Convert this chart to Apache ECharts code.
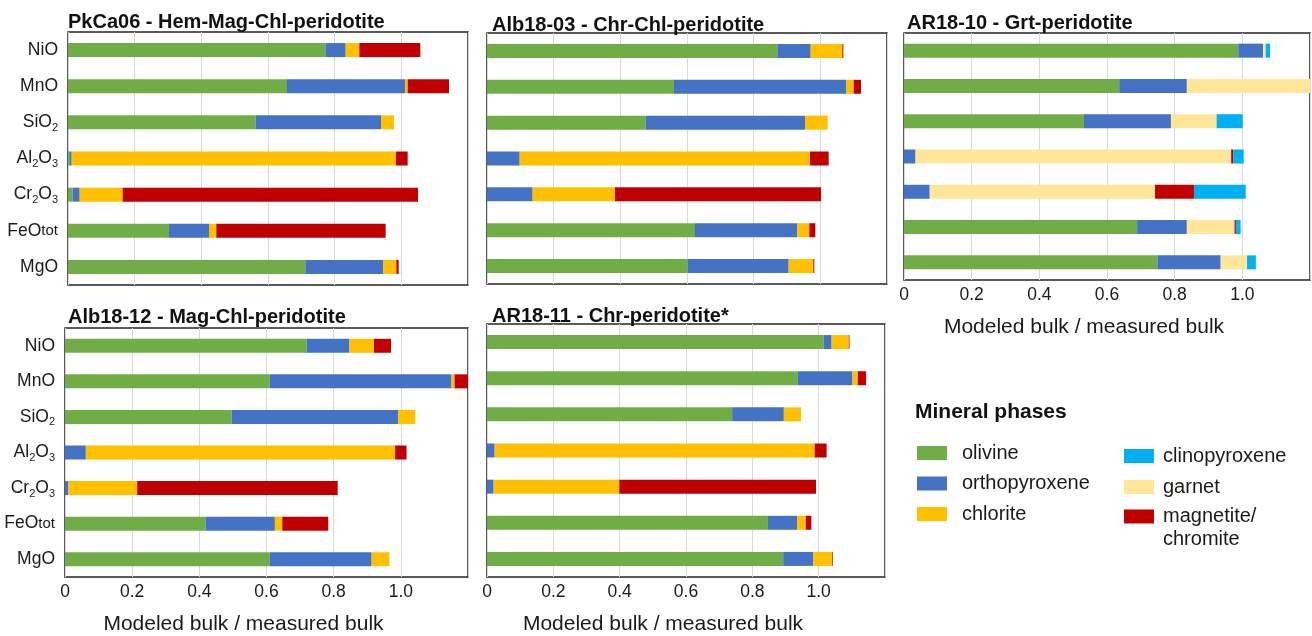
<!DOCTYPE html>
<html><head><meta charset="utf-8">
<script src="https://cdn.jsdelivr.net/npm/echarts@6/dist/echarts.min.js"></script>
<style>html,body{margin:0;padding:0;background:#fff}#c{width:1312px;height:636px}</style>
</head><body><div id="c"></div>
<script>
// ---------- DATA ----------
const categories = ['NiO', 'MnO', 'SiO2', 'Al2O3', 'Cr2O3', 'FeOtot', 'MgO'];
const tickLabels = ['0', '0.2', '0.4', '0.6', '0.8', '1.0', ''];
const axisTitle = 'Modeled bulk / measured bulk';
const legendTitle = 'Mineral phases';
const phaseNames = ['olivine', 'orthopyroxene', 'chlorite', 'garnet', 'magnetite/chromite', 'clinopyroxene'];
const phaseColors = ['#70AD47', '#4472C4', '#FFC000', '#FFE699', '#C00000', '#00B0F0'];
const panelTitles = [
  'PkCa06 - Hem-Mag-Chl-peridotite',
  'Alb18-03 - Chr-Chl-peridotite',
  'AR18-10 - Grt-peridotite',
  'Alb18-12 - Mag-Chl-peridotite',
  'AR18-11 - Chr-peridotite*'
];

// PkCa06
const pkca06_olivine   = [0.772, 0.657, 0.563, 0.004, 0.014, 0.303, 0.712];
const pkca06_opx       = [0.061, 0.354, 0.376, 0.007, 0.021, 0.120, 0.234];
const pkca06_chlorite  = [0.041, 0.008, 0.039, 0.973, 0.129, 0.022, 0.039];
const pkca06_magnetite = [0.183, 0.124, 0.000, 0.035, 0.886, 0.508, 0.007];
// Alb18-03
const alb1803_olivine   = [0.871, 0.561, 0.476, 0.000, 0.000, 0.624, 0.602];
const alb1803_opx       = [0.100, 0.516, 0.478, 0.098, 0.137, 0.307, 0.303];
const alb1803_chlorite  = [0.095, 0.023, 0.068, 0.871, 0.247, 0.036, 0.074];
const alb1803_magnetite = [0.003, 0.022, 0.000, 0.056, 0.618, 0.018, 0.003];
// AR18-10
const ar1810_olivine   = [0.988, 0.636, 0.532, 0.000, 0.000, 0.689, 0.749];
const ar1810_opx       = [0.073, 0.200, 0.257, 0.034, 0.076, 0.147, 0.187];
const ar1810_garnet    = [0.008, 0.380, 0.135, 0.933, 0.666, 0.141, 0.078];
const ar1810_magnetite = [0.000, 0.000, 0.000, 0.006, 0.115, 0.004, 0.000];
const ar1810_cpx       = [0.013, 0.000, 0.077, 0.031, 0.153, 0.014, 0.026];
// Alb18-12
const alb1812_olivine   = [0.720, 0.610, 0.496, 0.000, 0.000, 0.419, 0.610];
const alb1812_opx       = [0.127, 0.541, 0.496, 0.062, 0.010, 0.206, 0.303];
const alb1812_chlorite  = [0.073, 0.009, 0.051, 0.921, 0.205, 0.022, 0.053];
const alb1812_magnetite = [0.051, 0.050, 0.000, 0.034, 0.597, 0.137, 0.000];
// AR18-11
const ar1811_olivine   = [1.015, 0.937, 0.739, 0.000, 0.000, 0.847, 0.893];
const ar1811_opx       = [0.024, 0.165, 0.156, 0.023, 0.020, 0.088, 0.091];
const ar1811_chlorite  = [0.052, 0.016, 0.052, 0.965, 0.379, 0.026, 0.057];
const ar1811_magnetite = [0.002, 0.025, 0.000, 0.036, 0.593, 0.017, 0.002];

// panel -> {phaseName: values}
const panelData = [
  {olivine: pkca06_olivine, orthopyroxene: pkca06_opx, chlorite: pkca06_chlorite, 'magnetite/chromite': pkca06_magnetite},
  {olivine: alb1803_olivine, orthopyroxene: alb1803_opx, chlorite: alb1803_chlorite, 'magnetite/chromite': alb1803_magnetite},
  {olivine: ar1810_olivine, orthopyroxene: ar1810_opx, garnet: ar1810_garnet, 'magnetite/chromite': ar1810_magnetite, clinopyroxene: ar1810_cpx},
  {olivine: alb1812_olivine, orthopyroxene: alb1812_opx, chlorite: alb1812_chlorite, 'magnetite/chromite': alb1812_magnetite},
  {olivine: ar1811_olivine, orthopyroxene: ar1811_opx, chlorite: ar1811_chlorite, 'magnetite/chromite': ar1811_magnetite}
];

// ---------- LAYOUT ----------
const FONT = '"Liberation Sans", Arial, sans-serif';
const TXT = '#1a1a1a';
const grids = [
  {left: 68,  top: 32,  width: 400, height: 253},
  {left: 487, top: 33,  width: 400, height: 251},
  {left: 904, top: 33,  width: 406, height: 247},
  {left: 65,  top: 328, width: 403, height: 249},
  {left: 487, top: 324, width: 398, height: 254}
];
const titlePos = [[68, 12], [492, 15], [907, 13], [68, 307], [492, 306]];
const showCatLabels = [true, false, false, true, false];
const showXLabels = [false, false, true, true, true];

const richLabel = {
  n: {fontSize: 17.5, fontFamily: FONT, color: TXT, lineHeight: 22},
  s: {fontSize: 11, fontFamily: FONT, color: TXT, lineHeight: 14, verticalAlign: 'bottom'},
  t: {fontSize: 15, fontFamily: FONT, color: TXT, lineHeight: 22}
};
function catFormatter(v) {
  switch (v) {
    case 'SiO2': return '{n|SiO}{s|2}';
    case 'Al2O3': return '{n|Al}{s|2}{n|O}{s|3}';
    case 'Cr2O3': return '{n|Cr}{s|2}{n|O}{s|3}';
    case 'FeOtot': return '{n|FeO}{t|tot}';
    default: return '{n|' + v + '}';
  }
}

const option = {
  animation: false,
  backgroundColor: '#fff',
  title: panelTitles.map((t, i) => ({
    text: t, left: titlePos[i][0], top: titlePos[i][1], padding: 0,
    textStyle: {fontFamily: FONT, fontSize: 20, fontWeight: 'bold', color: '#111'}
  })).concat([{
    text: legendTitle, left: 915, top: 402, padding: 0,
    textStyle: {fontFamily: FONT, fontSize: 21, fontWeight: 'bold', color: '#111'}
  }]),
  legend: [
    {data: ['olivine', 'orthopyroxene', 'chlorite'], orient: 'vertical', left: 917, top: 443, padding: 0,
     itemWidth: 30, itemHeight: 14, itemGap: 10.5, icon: 'rect', selectedMode: false,
     textStyle: {fontFamily: FONT, fontSize: 20, color: TXT, padding: [0, 0, 0, 10]}},
    {data: ['clinopyroxene', 'garnet'], orient: 'vertical', left: 1124, top: 446, padding: 0,
     itemWidth: 30, itemHeight: 14, itemGap: 11, icon: 'rect', selectedMode: false,
     textStyle: {fontFamily: FONT, fontSize: 20, color: TXT, padding: [0, 0, 0, 4]}},
    {data: ['magnetite/chromite'], orient: 'vertical', left: 1124, top: 482, padding: 0,
     itemWidth: 30, itemHeight: 14, icon: 'rect', selectedMode: false,
     formatter: n => ' \n' + n.replace('/', '/\n'),
     textStyle: {fontFamily: FONT, fontSize: 20, color: TXT, lineHeight: 23, padding: [0, 0, 0, 4]}}
  ],
  grid: grids.map(g => Object.assign({show: true, borderColor: '#262626', borderWidth: 1.5, backgroundColor: 'transparent'}, g)),
  xAxis: grids.map((g, i) => ({
    gridIndex: i, type: 'value', min: 0, max: 1.2, interval: 0.2,
    axisLine: {show: false}, axisTick: {show: false},
    splitLine: {show: true, lineStyle: {color: '#d9d9d9', width: 1}},
    axisLabel: {show: showXLabels[i], margin: 6, fontFamily: FONT, fontSize: 17.5, color: TXT,
      showMaxLabel: false, formatter: (v, idx) => tickLabels[idx] !== undefined ? tickLabels[idx] : ''},
    name: showXLabels[i] ? axisTitle : '',
    nameLocation: 'middle', nameGap: 37,
    nameTextStyle: {fontFamily: FONT, fontSize: 21, color: TXT, padding: [0, 46, 0, 0]}
  })),
  yAxis: grids.map((g, i) => ({
    gridIndex: i, type: 'category', data: categories, inverse: true,
    axisLine: {show: false}, axisTick: {show: false}, splitLine: {show: false},
    axisLabel: {show: showCatLabels[i], margin: 10, align: 'right', formatter: catFormatter, rich: richLabel}
  })),
  series: []
};

panelData.forEach((pd, i) => {
  phaseNames.forEach((ph, k) => {
    if (!pd[ph]) return;
    option.series.push({
      type: 'bar', name: ph, xAxisIndex: i, yAxisIndex: i, stack: 'p' + i,
      data: pd[ph], barWidth: 14, clip: true,
      itemStyle: {color: phaseColors[k]}
    });
  });
});

const chart = echarts.init(document.getElementById('c'), null, {renderer: 'canvas'});
chart.setOption(option);
</script>
</body></html>
